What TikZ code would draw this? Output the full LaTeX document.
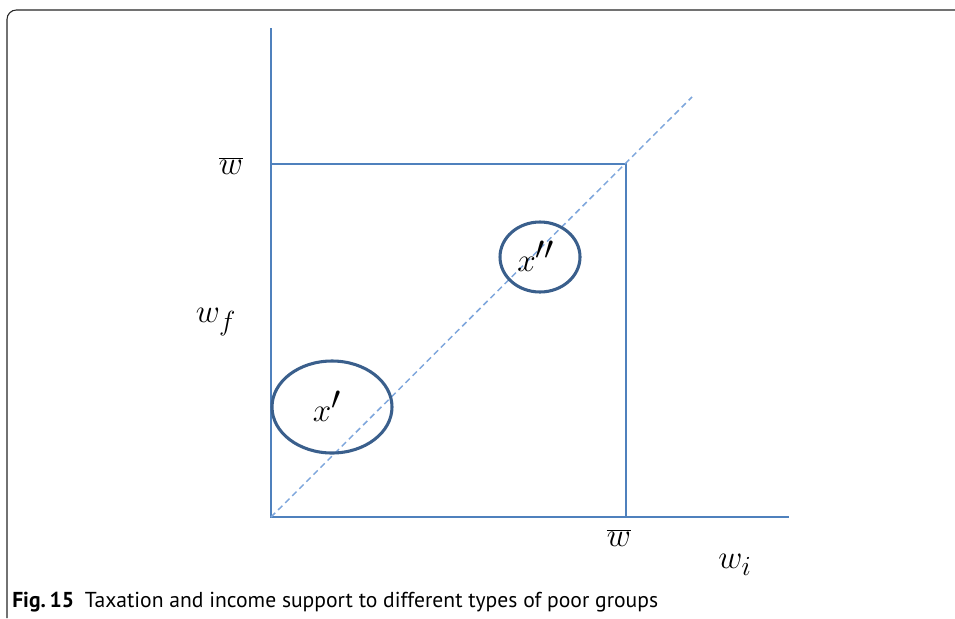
\documentclass[tikz,border=0pt]{standalone}
\usepackage{fontspec}
\setsansfont{PT Sans}
\usepackage{tikz}

\definecolor{axisblue}{HTML}{4F81BD}
\definecolor{ringblue}{HTML}{3A5F8C}
\definecolor{diagblue}{HTML}{7EA6DC}

\tikzset{
  axisline/.style={draw=axisblue, line width=1.1pt},
  ring/.style={draw=ringblue, line width=2.3pt},
  diagline/.style={draw=diagblue, line width=1.1pt, dash pattern=on 4.5pt off 3pt},
  lbl/.style={inner sep=0pt, font=\fontsize{#1}{#1}\selectfont}
}

\begin{document}
\begin{tikzpicture}[x=0.75pt, y=-0.75pt]
  \useasboundingbox (0,0) rectangle (955,618);
  % frame
  \draw[black!85, line width=0.8pt, rounded corners=7pt] (7,618) -- (7,10) -- (960,10);

  % axes and box
  \coordinate (o) at (271,517);
  \draw[axisline] (271,28) -- (o) -- (789,517);
  \draw[axisline] (271,164) -- (626,164) -- (626,517);
  \draw[diagline] (o) -- (692,97);

  % groups
  \draw[ring] (332,407) ellipse (60 and 46);
  \draw[ring] (540,257) ellipse (40 and 35);
  \node[lbl=36pt] (xa) at (327,406) {$x'$};
  \node[lbl=36pt] (xb) at (536,256) {$x''$};

  % labels
  \node[lbl=24pt] (wtop) at (231,166) {$\overline{w}$};
  \node[lbl=24pt] (wright) at (619,538) {$\overline{w}$};
  \node[lbl=31pt] (wf) at (216,322) {$w_f$};
  \node[lbl=31pt] (wi) at (735,565) {$w_i$};

  % caption
  \node[anchor=base west, inner sep=0pt, font=\sffamily\fontsize{16.2pt}{16.2pt}\selectfont] (cap) at (12,607)
    {\textbf{Fig.\,15}\enspace Taxation and income support to different types of poor groups};
\end{tikzpicture}
\end{document}
